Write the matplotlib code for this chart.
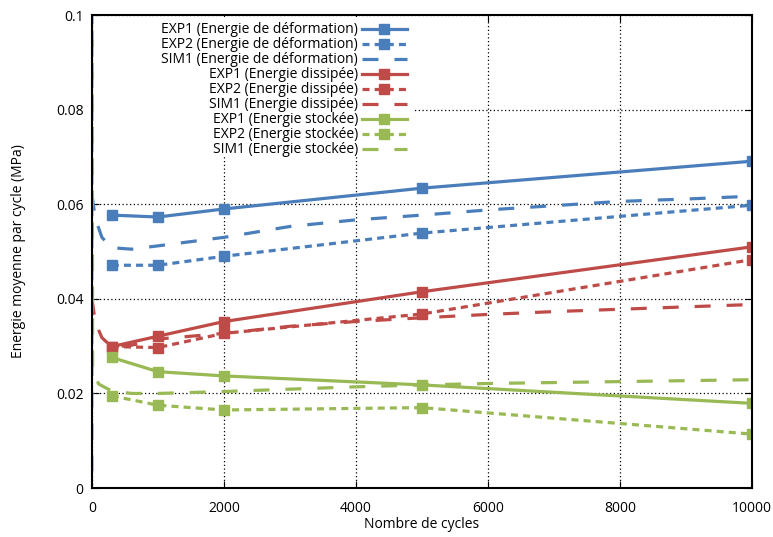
import matplotlib.pyplot as plt
from matplotlib.patches import Rectangle
import numpy as np

# cycles where the experimental points were measured
exp_x = [300, 1000, 2000, 5000, 10000]

def_exp1 = [0.0577, 0.0573, 0.0590, 0.0634, 0.0691]
def_exp2 = [0.0471, 0.0471, 0.0490, 0.0539, 0.0598]
dis_exp1 = [0.0299, 0.0321, 0.0352, 0.0415, 0.0510]
dis_exp2 = [0.0299, 0.0297, 0.0327, 0.0368, 0.0483]
sto_exp1 = [0.0276, 0.0246, 0.0237, 0.0218, 0.0179]
sto_exp2 = [0.0195, 0.0175, 0.0165, 0.0170, 0.0114]

# simulation curves
sim_x = [0, 50, 150, 300, 600, 1000, 2000, 3000, 4000, 5000, 6000, 7000, 8000, 9000, 10000]
def_sim = [0.0620, 0.0570, 0.0530, 0.0508, 0.0505, 0.0512, 0.0530, 0.0553, 0.0567, 0.0577,
           0.0588, 0.0597, 0.0606, 0.0611, 0.0617]
dis_sim = [0.0400, 0.0350, 0.0318, 0.0298, 0.0302, 0.0315, 0.0327, 0.0342, 0.0352, 0.0360,
           0.0367, 0.0373, 0.0378, 0.0383, 0.0388]
sto_sim_x = [0, 0, 10, 100, 300, 600, 1000, 2000, 3000, 4000, 5000, 6000, 7000, 8000, 9000, 10000]
sto_sim = [-0.01, 0.11, 0.0250, 0.0220, 0.0205, 0.0200, 0.0200, 0.0204, 0.0209, 0.0214, 0.0218,
           0.0221, 0.0223, 0.0225, 0.0227, 0.0229]

BLUE = "#4a7ebb"
RED = "#be4b48"
GREEN = "#98b954"

plt.rcParams['font.family'] = ['Open Sans', 'DejaVu Sans']

fig = plt.figure(figsize=(7.73, 5.37), dpi=100)
ax = fig.add_axes([0.119, 0.0912, 0.854, 0.8808])

lw = 2.3
ms = 7.5
dot = (0, (2.2, 1.6))
dash = (0, (5, 5))

ax.plot(exp_x, def_exp1, color=BLUE, lw=lw, marker='s', ms=ms, label="EXP1 (Energie de déformation)")
ax.plot(exp_x, def_exp2, color=BLUE, lw=lw, ls=dot, marker='s', ms=ms, label="EXP2 (Energie de déformation)")
ax.plot(sim_x, def_sim, color=BLUE, lw=lw, ls=dash, label="SIM1 (Energie de déformation)")
ax.plot(exp_x, dis_exp1, color=RED, lw=lw, marker='s', ms=ms, label="EXP1 (Energie dissipée)")
ax.plot(exp_x, dis_exp2, color=RED, lw=lw, ls=dot, marker='s', ms=ms, label="EXP2 (Energie dissipée)")
ax.plot(sim_x, dis_sim, color=RED, lw=lw, ls=dash, label="SIM1 (Energie dissipée)")
ax.plot(exp_x, sto_exp1, color=GREEN, lw=lw, marker='s', ms=ms, label="EXP1 (Energie stockée)")
ax.plot(exp_x, sto_exp2, color=GREEN, lw=lw, ls=dot, marker='s', ms=ms, label="EXP2 (Energie stockée)")
ax.plot(sto_sim_x, sto_sim, color=GREEN, lw=lw, ls=dash, label="SIM1 (Energie stockée)")

ax.set_xlim(0, 10000)
ax.set_ylim(0, 0.1)
ax.set_xticks([0, 2000, 4000, 6000, 8000, 10000])
ax.set_yticks([0, 0.02, 0.04, 0.06, 0.08, 0.1])
ax.set_yticklabels(["0", "0.02", "0.04", "0.06", "0.08", "0.1"])
ax.tick_params(direction='in', top=True, right=True, length=5, labelsize=10)
ax.tick_params(axis='x', pad=9)
ax.tick_params(axis='y', pad=6)
ax.grid(True, color='black', ls=(0, (1, 2)), lw=0.9)
for s in ax.spines.values():
    s.set_linewidth(1.5)

# white box behind the key hides the grid there
ax.add_patch(Rectangle((0.003, 0.705), 0.487, 0.29, transform=ax.transAxes,
                       facecolor='white', edgecolor='none', zorder=1.8))

ax.set_xlabel("Nombre de cycles", fontsize=10)
ax.set_ylabel("Energie moyenne par cycle (MPa)", fontsize=10)
ax.yaxis.set_label_coords(-0.100, 0.5)
ax.xaxis.set_label_coords(0.5, -0.062)

leg = ax.legend(loc='upper left', bbox_to_anchor=(0.09, 1.005), markerfirst=False, frameon=False,
                fontsize=10, labelspacing=0.0, handlelength=3.2, handletextpad=0.3,
                borderpad=0.2, markerscale=0.9)
for t in leg.get_texts():
    t.set_ha('right')
leg._legend_box.align = "right"

fig.savefig("out.png")
